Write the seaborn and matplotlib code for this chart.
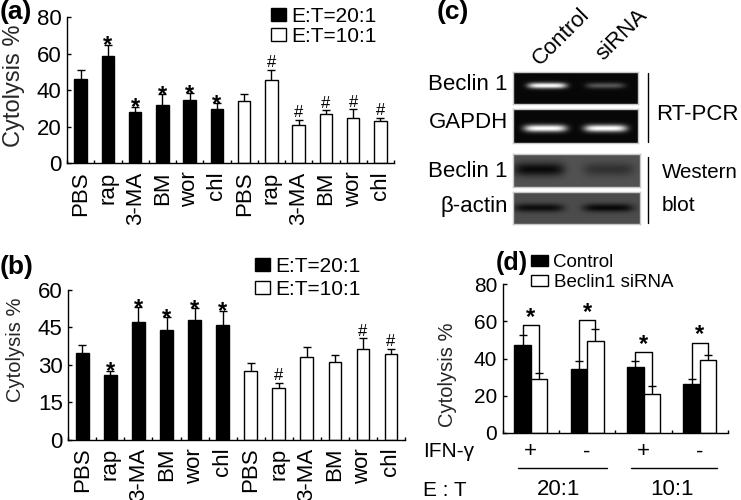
import numpy as np
import pandas as pd
import matplotlib
matplotlib.use("Agg")
import matplotlib.pyplot as plt
import seaborn as sns
from matplotlib.patches import Patch
from matplotlib.lines import Line2D
import matplotlib.transforms as mtransforms

# ---------------- data ----------------
treatments = ["PBS", "rap", "3-MA", "BM", "wor", "chl"]
ratio_labels = ["E:T=20:1", "E:T=10:1"]

a_20_vals = [46, 59, 28, 32, 34.5, 30]
a_20_err = [5, 6, 3, 6, 4, 3]
a_20_marks = ["", "*", "*", "*", "*", "*"]
a_10_vals = [34, 45.5, 21, 27, 25, 23]
a_10_err = [3.7, 5.5, 3, 2, 4.5, 2]
a_10_marks = ["", "#", "#", "#", "#", "#"]

b_20_vals = [34.7, 26, 47, 44, 48, 46]
b_20_err = [3.4, 1.6, 6, 5, 4.8, 5.7]
b_20_marks = ["", "*", "*", "*", "*", "*"]
b_10_vals = [27.5, 20.7, 33, 31.3, 36.4, 34.3]
b_10_err = [3.2, 2, 4, 2.8, 4.2, 2]
b_10_marks = ["", "#", "", "", "#", "#"]

d_series = ["Control", "Beclin1 siRNA"]
d_ifn = ["+", "-", "+", "-"]
d_et = ["20:1", "10:1"]
d_ctrl_vals = [47.5, 34.4, 35.3, 26]
d_ctrl_err = [5.3, 4.1, 3.4, 2.7]
d_sirna_vals = [28.9, 49.3, 21.1, 39.1]
d_sirna_err = [3.1, 6.7, 4, 2.9]
d_sig_level = [58, 60.5, 43.5, 48.5]

gel_lanes = ["Control", "siRNA"]
beclin1_rtpcr = [1.0, 0.32]
gapdh_rtpcr = [1.0, 1.0]
beclin1_wb = [1.0, 0.45]
actin_wb = [0.95, 1.0]

# ---------------- style ----------------
sns.set_theme(style="ticks")
plt.rcParams["font.family"] = ["Liberation Sans", "DejaVu Sans"]
plt.rcParams["axes.linewidth"] = 1.0
plt.rcParams["axes.edgecolor"] = "black"
plt.rcParams["text.color"] = "black"
plt.rcParams["xtick.color"] = "black"
plt.rcParams["ytick.color"] = "black"

W, H = 741, 500
fig = plt.figure(figsize=(W / 100, H / 100), dpi=100)


def fbox(x0, y0, x1, y1):
    return [x0 / W, 1 - y1 / H, (x1 - x0) / W, (y1 - y0) / H]


def bar_centers(ax):
    pts = []
    for cont in ax.containers:
        for bar in cont:
            h = bar.get_height()
            if h is None or np.isnan(h):
                continue
            pts.append((bar.get_x() + bar.get_width() / 2, h))
    pts.sort()
    return [p[0] for p in pts], [p[1] for p in pts]


def upper_errors(ax, xs, tops, errs):
    xs = np.asarray(xs, float)
    tops = np.asarray(tops, float)
    errs = np.asarray(errs, float)
    ax.errorbar(xs, tops, yerr=[np.zeros(len(errs)), errs], fmt="none", ecolor="black",
                elinewidth=1.0, capsize=0, zorder=5)
    ax.plot(xs, tops + errs, ls="none", marker="_", ms=5.5, mew=1.0, color="black", zorder=5)


def add_marks(ax, xs, tops, errs, marks):
    for x, t, e, m in zip(xs, tops, errs, marks):
        if not m:
            continue
        if m == "*":
            ax.annotate(m, (x, t + e), xytext=(0, -5.5), textcoords="offset points",
                        ha="center", va="baseline", fontsize=17, fontweight="bold")
        else:
            ax.annotate(m, (x, t + e), xytext=(0, 2.0), textcoords="offset points",
                        ha="center", va="baseline", fontsize=12)


def treatment_panel(ax, v20, e20, m20, v10, e10, m10, ymax, yticks, ylab_size,
                    ylab_xy, legend_xy, leg_spacing):
    vals = v20 + v10
    errs = e20 + e10
    marks = m20 + m10
    pos = [str(i) for i in range(len(vals))]
    grp = [ratio_labels[0]] * len(v20) + [ratio_labels[1]] * len(v10)
    df = pd.DataFrame({"pos": pos, "val": vals, "grp": grp})
    sns.barplot(data=df, x="pos", y="val", hue="grp", order=pos, hue_order=ratio_labels,
                palette={ratio_labels[0]: "black", ratio_labels[1]: "white"},
                dodge=False, width=0.45, edgecolor="black", linewidth=1.0,
                errorbar=None, legend=False, ax=ax)
    xs, tops = bar_centers(ax)
    upper_errors(ax, xs, tops, errs)
    add_marks(ax, xs, tops, errs, marks)
    n = len(vals)
    ax.set_xlim(-0.5, n - 0.5)
    ax.set_ylim(0, ymax)
    ax.set_yticks(yticks)
    ax.set_xticks(range(n))
    ax.set_xticklabels(treatments + treatments, rotation=90, fontsize=16)
    ax.set_xticks(np.arange(-0.5, n, 1.0), minor=True)
    ax.tick_params(axis="x", which="major", length=0, pad=6)
    ax.tick_params(axis="x", which="minor", direction="in", length=2.5, width=1.0)
    ax.tick_params(axis="y", direction="in", length=3, width=1.0, labelsize=16, pad=4)
    sns.despine(ax=ax)
    ax.set_xlabel("")
    ax.set_ylabel("Cytolysis %", fontsize=ylab_size)
    ax.yaxis.set_label_coords(*ylab_xy)
    handles = [Patch(facecolor="black", edgecolor="black", linewidth=1.0),
               Patch(facecolor="white", edgecolor="black", linewidth=1.0)]
    ax.legend(handles, ratio_labels, loc="upper left", bbox_to_anchor=legend_xy,
              bbox_transform=fig.transFigure, frameon=False, fontsize=15,
              handlelength=0.72, handleheight=0.58, handletextpad=0.25,
              labelspacing=leg_spacing, borderpad=0, borderaxespad=0)


# ---------------- panel (a) ----------------
ax_a = fig.add_axes(fbox(67, 17.3, 394, 163.3))
treatment_panel(ax_a, a_20_vals, a_20_err, a_20_marks, a_10_vals, a_10_err, a_10_marks,
                80, [0, 20, 40, 60, 80], 17, (-0.128, 0.53), (271 / W, 1 - 7 / H), 0.05)

# ---------------- panel (b) ----------------
ax_b = fig.add_axes(fbox(68.3, 290, 405, 439.5))
treatment_panel(ax_b, b_20_vals, b_20_err, b_20_marks, b_10_vals, b_10_err, b_10_marks,
                60, [0, 15, 30, 45, 60], 14.5, (-0.129, 0.60), (255 / W, 1 - 257 / H), 0.2)

# ---------------- panel (d) ----------------
ax_d = fig.add_axes(fbox(502.7, 284.3, 728, 432.7))
grp_ids = [str(i) for i in range(len(d_ifn))]
df_d = pd.DataFrame({
    "grp": grp_ids * 2,
    "val": d_ctrl_vals + d_sirna_vals,
    "series": [d_series[0]] * len(d_ifn) + [d_series[1]] * len(d_ifn),
})
sns.barplot(data=df_d, x="grp", y="val", hue="series", order=grp_ids, hue_order=d_series,
            palette={d_series[0]: "black", d_series[1]: "white"}, dodge=True, width=0.59,
            gap=0, edgecolor="black", linewidth=1.0, errorbar=None, legend=False, ax=ax_d)
ctrl_x = [b.get_x() + b.get_width() / 2 for b in ax_d.containers[0]]
ctrl_t = [b.get_height() for b in ax_d.containers[0]]
si_x = [b.get_x() + b.get_width() / 2 for b in ax_d.containers[1]]
si_t = [b.get_height() for b in ax_d.containers[1]]
upper_errors(ax_d, ctrl_x + si_x, ctrl_t + si_t, d_ctrl_err + d_sirna_err)
for xc, tc, ec, xs_, ts, es, yb in zip(ctrl_x, ctrl_t, d_ctrl_err, si_x, si_t, d_sirna_err, d_sig_level):
    ax_d.plot([xc, xc, xs_, xs_], [tc + ec, yb, yb, ts + es], color="black", lw=1.0, zorder=6)
    ax_d.annotate("*", ((xc + xs_) / 2, yb), xytext=(0, 1.0), textcoords="offset points",
                  ha="center", va="baseline", fontsize=17, fontweight="bold")
ax_d.set_xlim(-0.5, len(d_ifn) - 0.5)
ax_d.set_ylim(0, 80)
ax_d.set_yticks([0, 20, 40, 60, 80])
ax_d.set_xticks([])
ax_d.set_xticks(np.arange(-0.5, len(d_ifn), 1.0), minor=True)
ax_d.tick_params(axis="x", which="minor", direction="in", length=2.5, width=1.0)
ax_d.tick_params(axis="y", direction="in", length=3, width=1.0, labelsize=15, pad=4)
sns.despine(ax=ax_d)
ax_d.set_xlabel("")
ax_d.set_ylabel("Cytolysis %", fontsize=14.5)
ax_d.yaxis.set_label_coords(-0.204, 0.39)
ax_d.legend([Patch(facecolor="black", edgecolor="black"), Patch(facecolor="white", edgecolor="black")],
            d_series, loc="upper left", bbox_to_anchor=(531 / W, 1 - 254 / H),
            bbox_transform=fig.transFigure, frameon=False, fontsize=13.5,
            handlelength=0.9, handleheight=0.55, handletextpad=0.3,
            labelspacing=0.18, borderpad=0, borderaxespad=0)

blend = mtransforms.blended_transform_factory(ax_d.transData, ax_d.transAxes)
for i, s in enumerate(d_ifn):
    ax_d.text(i, -0.128, s, transform=blend, ha="center", va="center", fontsize=16)
for k, lab in enumerate(d_et):
    x0, x1 = 2 * k - 0.23, 2 * k + 1.35 - 0.04 * k
    ax_d.plot([x0, x1], [-0.24, -0.24], transform=blend, color="black", lw=1.0, clip_on=False)
    ax_d.text(2 * k + 0.5, -0.386, lab, transform=blend, ha="center", va="center", fontsize=16)
fig.text(423 / W, 1 - 451.7 / H, "IFN-γ", ha="left", va="center", fontsize=15)
fig.text(423 / W, 1 - 490 / H, "E : T", ha="left", va="center", fontsize=15)

# ---------------- panel (c) gels ----------------
def gel_image(intens, lane_x, band_y, half_w, half_h, kind, bg, nx=128, ny=34):
    X, Y = np.meshgrid(np.linspace(0, 1, nx), np.linspace(0, 1, ny))
    acc = np.zeros_like(X)
    for a, cx in zip(intens, lane_x):
        acc += a * np.exp(-np.abs((X - cx) / half_w) ** 5) * np.exp(-((Y - band_y) / half_h) ** 2)
    acc = np.clip(acc, 0, 1)
    if kind == "rt":
        return bg + (1 - bg) * acc
    return bg * (1 - 0.88 * acc)


gels = [
    ((512.7, 71.7, 638.3, 104.3), beclin1_rtpcr, [0.27, 0.735], 0.44, 0.155, 0.09, "rt", 0.03),
    ((512.7, 109.3, 638.3, 142.7), gapdh_rtpcr, [0.255, 0.737], 0.57, 0.17, 0.11, "rt", 0.03),
    ((512.7, 154.0, 640.0, 187.3), beclin1_wb, [0.2, 0.75], 0.48, 0.2, 0.2, "wb", 0.32),
    ((512.7, 191.7, 640.0, 224.3), actin_wb, [0.2, 0.745], 0.51, 0.2, 0.13, "wb", 0.30),
]
for box, inten, lx, by, hw, hh, kind, bg in gels:
    gax = fig.add_axes(fbox(*box))
    img = gel_image(inten, lx, by, hw, hh, kind, bg)
    gax.imshow(img, cmap="gray", vmin=0, vmax=1, aspect="auto", interpolation="bilinear")
    gax.set_xticks([])
    gax.set_yticks([])
    for sp in gax.spines.values():
        sp.set_color("#c8c8c8")
        sp.set_linewidth(1.0)

for txt, y in [("Beclin 1", 85), ("GAPDH", 122), ("Beclin 1", 171.5), ("β-actin", 207)]:
    fig.text(508 / W, 1 - y / H, txt, ha="right", va="center", fontsize=16)
fig.text(656 / W, 1 - 115 / H, "RT-PCR", ha="left", va="center", fontsize=16)
fig.text(662 / W, 1 - 173 / H, "Western", ha="left", va="center", fontsize=14.8)
fig.text(662 / W, 1 - 206 / H, "blot", ha="left", va="center", fontsize=15)
fig.add_artist(Line2D([648 / W, 648 / W], [1 - 73.3 / H, 1 - 141.7 / H], color="black", lw=1.0))
fig.add_artist(Line2D([648 / W, 648 / W], [1 - 156.7 / H, 1 - 223.3 / H], color="black", lw=1.0))
fig.text(540 / W, 1 - 66 / H, gel_lanes[0], rotation=45, rotation_mode="anchor",
         ha="left", va="baseline", fontsize=16)
fig.text(603 / W, 1 - 61 / H, gel_lanes[1], rotation=45, rotation_mode="anchor",
         ha="left", va="baseline", fontsize=16)

# ---------------- panel letters ----------------
fig.text(0 / W, 1 - 0 / H, "(a)", ha="left", va="top", fontsize=19, fontweight="bold")
fig.text(0 / W, 1 - 255 / H, "(b)", ha="left", va="top", fontsize=19, fontweight="bold")
fig.text(437 / W, 1 - 0 / H, "(c)", ha="left", va="top", fontsize=19, fontweight="bold")
fig.text(496 / W, 1 - 251 / H, "(d)", ha="left", va="top", fontsize=18, fontweight="bold")

fig.savefig("out.png", dpi=100)
